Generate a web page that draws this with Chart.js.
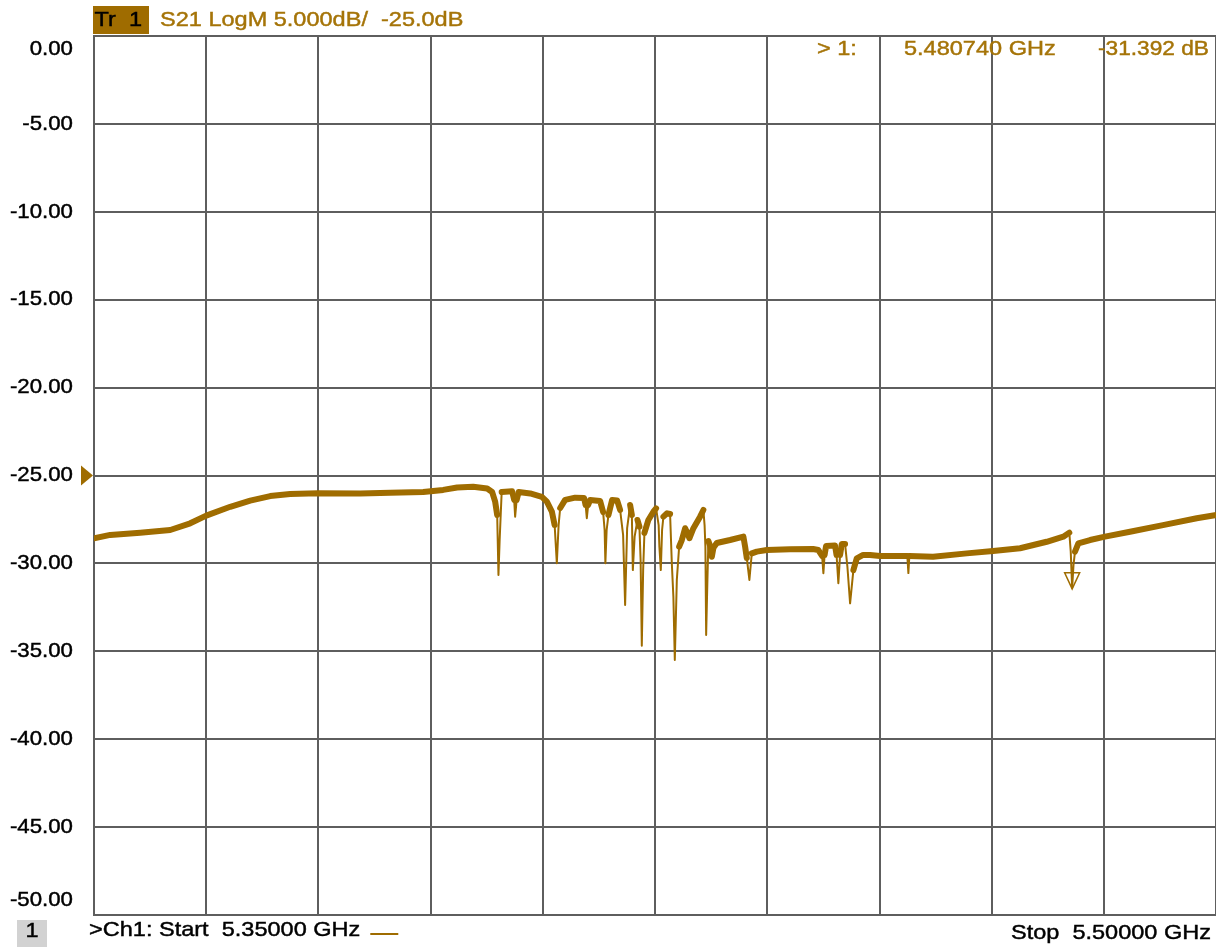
<!DOCTYPE html>
<html>
<head>
<meta charset="utf-8">
<script src="https://cdn.jsdelivr.net/npm/chart.js@4/dist/chart.umd.min.js"></script>
<style>
  html, body { margin: 0; padding: 0; background: #ffffff; overflow: hidden; width: 1216px; height: 947px; }
  canvas { display: block; }
</style>
</head>
<body>
<canvas id="vna" width="1220" height="947"></canvas>
<script>
// Channel 1 sweep settings
const startGHz = 5.35;
const stopGHz = 5.50;
const refLevelDb = -25;
const scaleDbPerDiv = 5;
const xDivisions = 10;

// Y axis tick values (dB)
const yTickValues = [0, -5, -10, -15, -20, -25, -30, -35, -40, -45, -50];

// Trace 1: S21 log magnitude
const freqGHz = [
  5.35000, 5.35217, 5.35618, 5.36019, 5.36286, 5.36500, 5.36821, 5.37088, 5.37355, 5.37622,
  5.37997, 5.38558, 5.38959, 5.39400, 5.39667, 5.39854, 5.40068, 5.40255, 5.40322, 5.40362,
  5.40389, 5.40406, 5.40422, 5.40449, 5.40589, 5.40616, 5.40629, 5.40649, 5.40676, 5.40830,
  5.40986, 5.41053, 5.41120, 5.41157, 5.41186, 5.41210, 5.41231, 5.41297, 5.41431, 5.41551,
  5.41571, 5.41587, 5.41605, 5.41631, 5.41765, 5.41805, 5.41825, 5.41835, 5.41852, 5.41876,
  5.41925, 5.41992, 5.42032, 5.42072, 5.42099, 5.42126, 5.42166, 5.42189, 5.42202, 5.42226,
  5.42264, 5.42290, 5.42306, 5.42322, 5.42340, 5.42357, 5.42410, 5.42477, 5.42513, 5.42547,
  5.42557, 5.42576, 5.42593, 5.42611, 5.42660, 5.42700, 5.42723, 5.42744, 5.42763, 5.42790,
  5.42821, 5.42857, 5.42901, 5.42932, 5.42958, 5.43012, 5.43101, 5.43145, 5.43161, 5.43172,
  5.43182, 5.43199, 5.43212, 5.43235, 5.43258, 5.43279, 5.43324, 5.43502, 5.43680, 5.43703,
  5.43725, 5.43760, 5.43792, 5.43859, 5.43993, 5.44304, 5.44611, 5.44682, 5.44732, 5.44749,
  5.44765, 5.44785, 5.44905, 5.44925, 5.44949, 5.44972, 5.44995, 5.45039, 5.45070, 5.45106,
  5.45150, 5.45195, 5.45280, 5.45373, 5.45507, 5.45871, 5.45885, 5.45898, 5.46215, 5.46665,
  5.47017, 5.47378, 5.47734, 5.47956, 5.48036, 5.48055, 5.480740, 5.48092, 5.48112, 5.48157,
  5.48313, 5.48513, 5.48847, 5.49288, 5.49739, 5.50000
];
const s21Db = [
  -28.58, -28.38, -28.25, -28.10, -27.72, -27.28, -26.78, -26.43, -26.17, -26.05,
  -26.01, -26.03, -25.98, -25.94, -25.82, -25.68, -25.64, -25.74, -25.94, -26.49,
  -27.25, -30.66, -28.67, -25.94, -25.90, -26.39, -27.34, -26.39, -25.94, -26.02,
  -26.21, -26.49, -27.06, -27.82, -29.99, -27.82, -26.85, -26.39, -26.26, -26.28,
  -26.68, -27.43, -26.68, -26.39, -26.45, -27.08, -28.10, -29.99, -28.10, -27.25,
  -26.39, -26.42, -26.96, -28.38, -32.37, -27.99, -26.68, -27.25, -30.38, -28.48,
  -27.53, -27.91, -29.81, -34.68, -30.38, -28.27, -27.53, -27.06, -26.87, -27.82,
  -29.05, -30.38, -28.10, -27.34, -27.15, -27.19, -29.98, -31.89, -35.50, -30.94,
  -29.05, -28.67, -28.00, -28.27, -28.57, -28.00, -27.34, -26.96, -27.82, -29.05,
  -34.07, -30.94, -28.73, -29.01, -29.62, -29.12, -28.84, -28.67, -28.48, -29.05,
  -29.69, -30.94, -29.43, -29.33, -29.24, -29.20, -29.18, -29.24, -29.58, -30.56,
  -29.52, -29.01, -28.98, -29.52, -31.13, -29.52, -28.90, -28.90, -30.19, -32.27,
  -30.38, -29.71, -29.52, -29.52, -29.58, -29.58, -30.55, -29.58, -29.62, -29.43,
  -29.29, -29.14, -28.77, -28.48, -28.25, -29.33, -31.392, -30.09, -29.33, -28.86,
  -28.67, -28.48, -28.20, -27.82, -27.43, -27.25
];

// Marker 1
const markerFreqGHz = 5.480740;
const markerDb = -31.392;

const traceColor = '#9F6C00';
const annotColor = '#A57408';
const gridColor = '#5E5E5E';
const fontFamily = '"Liberation Sans", Arial, sans-serif';

function drawText(ctx, s, x, y, opts) {
  const o = Object.assign({ align: 'left', color: '#000000', size: 21, sx: 1.12 }, opts || {});
  ctx.save();
  ctx.font = o.size + 'px ' + fontFamily;
  ctx.fillStyle = o.color;
  ctx.strokeStyle = o.color;
  ctx.lineWidth = 0.45;
  ctx.textBaseline = 'middle';
  ctx.textAlign = o.align;
  ctx.translate(x, y);
  ctx.scale(o.sx, 1);
  ctx.fillText(s, 0, 0);
  ctx.strokeText(s, 0, 0);
  const w = ctx.measureText(s).width * o.sx;
  ctx.restore();
  return w;
}

const annotations = {
  id: 'annotations',
  afterDraw(chart) {
    const ctx = chart.ctx;
    const xs = chart.scales.x, ys = chart.scales.y;
    const area = chart.chartArea;

    // Y tick labels, end labels kept inside the grid
    yTickValues.forEach(v => {
      let py = ys.getPixelForValue(v);
      py = Math.max(area.top + 13, Math.min(area.bottom - 14.5, py));
      drawText(ctx, v.toFixed(2), 73, py, { align: 'right', sx: 1.06 });
    });

    // Trace title block
    ctx.fillStyle = traceColor;
    ctx.fillRect(93, 6, 56, 28);
    drawText(ctx, 'Tr  1', 94.5, 20.5, {});
    drawText(ctx, 'S21 LogM ' + scaleDbPerDiv.toFixed(3) + 'dB/  ' + refLevelDb.toFixed(1) + 'dB',
      160, 20.5, { color: annotColor });

    // Marker readout
    drawText(ctx, '> 1:', 817, 49.5, { color: annotColor });
    drawText(ctx, markerFreqGHz.toFixed(6) + ' GHz', 904, 49.5, { color: annotColor });
    drawText(ctx, markerDb.toFixed(3) + ' dB', 1209, 49.5, { color: annotColor, align: 'right', sx: 1.08 });

    // Reference level arrow
    const ry = ys.getPixelForValue(refLevelDb);
    ctx.save();
    ctx.fillStyle = traceColor;
    ctx.beginPath();
    ctx.moveTo(81, ry - 10);
    ctx.lineTo(93, ry);
    ctx.lineTo(81, ry + 10);
    ctx.closePath();
    ctx.fill();
    ctx.restore();

    // Marker 1 symbol (open triangle pointing at the trace)
    const mx = xs.getPixelForValue(markerFreqGHz);
    const my = ys.getPixelForValue(markerDb);
    ctx.save();
    ctx.strokeStyle = traceColor;
    ctx.lineWidth = 1.5;
    ctx.beginPath();
    ctx.moveTo(mx - 7.5, my - 15);
    ctx.lineTo(mx + 7.5, my - 15);
    ctx.lineTo(mx, my + 1);
    ctx.closePath();
    ctx.stroke();
    ctx.restore();

    // Channel footer
    ctx.fillStyle = '#D2D2D2';
    ctx.fillRect(17, 920, 30, 27);
    drawText(ctx, '1', 32, 931.5, { align: 'center' });
    const w = drawText(ctx, '>Ch1: Start  ' + startGHz.toFixed(5) + ' GHz', 89, 930.5, {});
    ctx.save();
    ctx.strokeStyle = traceColor;
    ctx.lineWidth = 2;
    ctx.beginPath();
    ctx.moveTo(89 + w + 10, 934);
    ctx.lineTo(89 + w + 38, 934);
    ctx.stroke();
    ctx.restore();
    drawText(ctx, 'Stop  ' + stopGHz.toFixed(5) + ' GHz', 1211, 933, { align: 'right' });
  }
};

new Chart(document.getElementById('vna'), {
  type: 'line',
  data: {
    datasets: [{
      data: freqGHz.map((f, i) => ({ x: f, y: s21Db[i] })),
      borderColor: traceColor,
      borderWidth: 6,
      borderCapStyle: 'round',
      borderJoinStyle: 'round',
      pointRadius: 0,
      tension: 0,
      fill: false,
      segment: {
        borderWidth: c => {
          const dx = Math.abs(c.p1.x - c.p0.x);
          const dy = Math.abs(c.p1.y - c.p0.y);
          return dy > 3 * dx + 8 ? 2 : 6;
        }
      }
    }]
  },
  options: {
    responsive: false,
    animation: false,
    devicePixelRatio: 1,
    layout: { padding: { left: 94, top: 36, right: 3.75, bottom: 32 } },
    plugins: { legend: { display: false }, tooltip: { enabled: false } },
    scales: {
      x: {
        type: 'linear',
        min: startGHz,
        max: stopGHz,
        afterBuildTicks: s => {
          const t = [];
          for (let i = 0; i <= xDivisions; i++) t.push({ value: startGHz + (stopGHz - startGHz) * i / xDivisions });
          s.ticks = t;
        },
        afterFit: s => { s.height = 0; },
        ticks: { display: false },
        grid: { color: gridColor, lineWidth: 2, drawTicks: false },
        border: { display: true, color: gridColor, width: 2 }
      },
      y: {
        type: 'linear',
        min: -50,
        max: 0,
        afterBuildTicks: s => { s.ticks = yTickValues.map(v => ({ value: v })); },
        afterFit: s => { s.width = 0; },
        ticks: { display: false },
        grid: { color: gridColor, lineWidth: 2, drawTicks: false },
        border: { display: true, color: gridColor, width: 2 }
      }
    }
  },
  plugins: [annotations]
});
</script>
</body>
</html>
